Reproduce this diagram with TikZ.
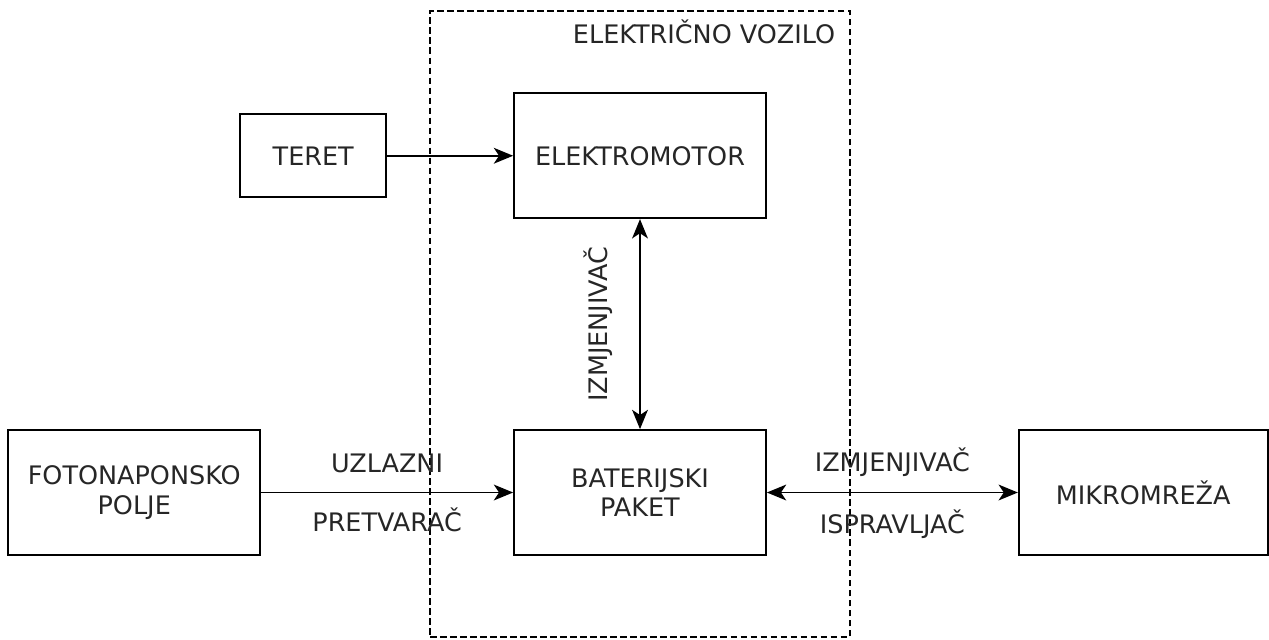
\documentclass[tikz,border=0pt]{standalone}
\usepackage{fontspec}
\setmainfont{DejaVu Sans}
\usetikzlibrary{arrows.meta,positioning}

\tikzset{
    tip/.tip = {Stealth[length=11pt,width=9pt,inset=3pt]}
}

\begin{document}
\begin{tikzpicture}[
            font = \fontsize{14.5}{17}\selectfont,
            box/.style = {draw, line width=1pt, minimum width=5.04cm, minimum height=2.5cm, align=center, text=black!85},
            tag/.style = {inner sep=0pt, text height=10.6pt, text depth=0pt, text=black!85},
            container/.style = {draw, line width=0.7pt, dash pattern=on 3.8pt off 1.9pt, minimum width=8.4cm, minimum height=12.52cm},
            link/.style = {line width=1pt, -tip}, % one-way connector
            duplex/.style = {line width=1pt, tip-tip} % two-way connector
        ]

	\useasboundingbox (0,0) rectangle (25.38,-12.78);

	% dashed frame of the vehicle
	\node[container] (vozilo) at (12.8,-6.48) {};
	\node[tag, anchor=north east] (voziloname) at ([xshift=-0.3cm,yshift=-0.28cm]vozilo.north east) {ELEKTRIČNO VOZILO};

	\node[box] (baterija) at (12.8,-9.85) {BATERIJSKI\\PAKET};
	\node[box] (polje) [left=5.04cm of baterija] {FOTONAPONSKO\\POLJE};
	\node[box] (mreza) [right=5.02cm of baterija, minimum width=4.98cm] {MIKROMREŽA};
	\node[box] (motor) [above=4.2cm of baterija] {ELEKTROMOTOR};
	\node[box] (teret) [left=2.52cm of motor, minimum width=2.92cm, minimum height=1.66cm] {TERET};

	\draw[link] (teret) -- (motor);
	\draw[duplex] (motor) -- (baterija)
		node[tag, midway, xshift=-0.84cm, rotate=90] {IZMJENJIVAČ};
	\draw[link] (polje) -- (baterija)
		node[tag, midway, yshift=0.58cm] {UZLAZNI}
		node[tag, midway, yshift=-0.6cm] {PRETVARAČ};
	\draw[duplex] (baterija) -- (mreza)
		node[tag, midway, yshift=0.6cm] {IZMJENJIVAČ}
		node[tag, midway, yshift=-0.64cm] {ISPRAVLJAČ};

\end{tikzpicture}
\end{document}
